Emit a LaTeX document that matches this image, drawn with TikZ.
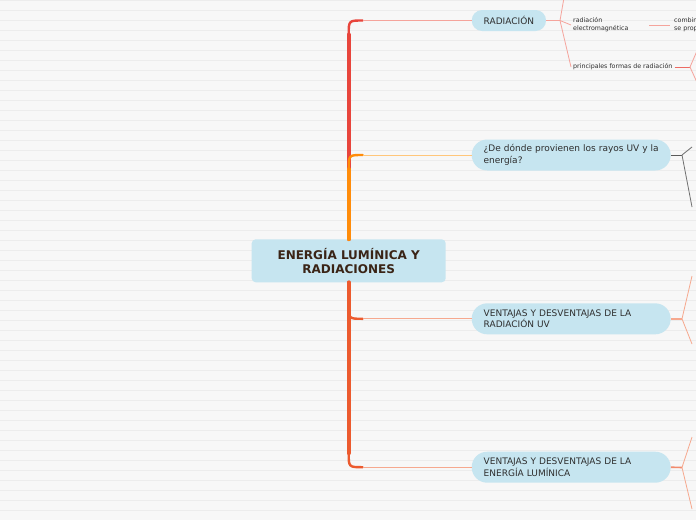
\documentclass[tikz,border=0pt]{standalone}
\usepackage{fontspec}
\setmainfont{DejaVu Sans}
\usetikzlibrary{positioning, calc}
\definecolor{bgpaper}{HTML}{F7F7F7}
\definecolor{bgrule}{HTML}{ECECEC}
\definecolor{bubble}{HTML}{C6E5F0}
\definecolor{inkdark}{HTML}{3A2416}
\definecolor{inktext}{HTML}{2E2E2E}
\definecolor{brRed}{HTML}{E8453C}
\definecolor{brRedLt}{HTML}{F5A49C}
\definecolor{brOrange}{HTML}{FF8C0A}
\definecolor{brOrangeLt}{HTML}{FFC67A}
\definecolor{brCoral}{HTML}{EC5A2E}
\definecolor{brCoralLt}{HTML}{F6A88E}
\definecolor{leafgray}{HTML}{707070}

\begin{document}
\begin{tikzpicture}[x=1pt, y=-1pt, font=\fontsize{9}{11.5}\selectfont,
  topic/.style={fill=bubble, rounded corners=4pt, align=center, text=inkdark,
                font=\fontsize{12}{14.5}\selectfont\bfseries,
                minimum width=194pt, minimum height=43pt, inner sep=0pt},
  pill/.style={fill=bubble, rounded corners=15.5pt, align=left, text=inktext, anchor=west,
               text width=175pt, inner xsep=12pt, inner ysep=0pt, minimum height=31pt},
  tag/.style={fill=bubble, rounded corners=10.5pt, text=inktext, anchor=west,
              inner xsep=12pt, inner ysep=0pt, minimum height=21pt},
  leaf/.style={font=\fontsize{6.3}{8}\selectfont, text=inktext, align=left, anchor=west, inner sep=2pt},
  ruling/.style={draw=bgrule, line width=0.8pt},
  stem/.style={line width=4pt, line cap=round},
  elbow/.style={line width=2.4pt, line cap=round},
  twig/.style={line width=1pt},
  stub/.style={line width=1.6pt},
  fan/.style={line width=0.8pt}]
  \useasboundingbox (0,0) rectangle (696,520);
  \clip (0,0) rectangle (696,520);
  % ---- ruled paper
  \fill[bgpaper] (0,0) rectangle (696,520);
  \foreach \k in {0,...,51}
    \draw[ruling] (0,10*\k+0.7) -- (696,10*\k+0.7);
  % ---- central topic and the four main topics
  \node[topic] (core) at (348.7,260.8) {ENERGÍA LUMÍNICA Y\\RADIACIONES};
  \node[tag]  (rad)      at (471.5,20.5)  {RADIACIÓN};
  \node[pill] (origin)   at (471.5,155)   {¿De dónde provienen los rayos UV y la\\energía?};
  \node[pill] (proUV)    at (471.5,318.8) {VENTAJAS Y DESVENTAJAS DE LA\\RADIACIÓN UV};
  \node[pill] (proLight) at (471.5,467.2) {VENTAJAS Y DESVENTAJAS DE LA\\ENERGÍA LUMÍNICA};
  \coordinate (kneeA) at (core.north |- rad.west);
  \coordinate (kneeB) at (core.north |- origin.west);
  \coordinate (kneeC) at (core.south |- proUV.west);
  \coordinate (kneeD) at (core.south |- proLight.west);
  % ---- branches: thick trunk, a bent elbow, then a thin run to the topic
  \draw[stem, brRed] (core.north) -- ($(kneeA)+(0,14)$);
  \draw[elbow, brRed] ($(kneeA)+(0,14)$) .. controls (kneeA) .. ($(kneeA)+(14,0)$);
  \draw[twig, brRedLt] ($(kneeA)+(14,0)$) -- (rad.west);
  \draw[stem, brOrange] (core.north) -- ($(kneeB)+(0,14)$);
  \draw[elbow, brOrange] ($(kneeB)+(0,14)$) .. controls (kneeB) .. ($(kneeB)+(14,0)$);
  \draw[twig, brOrangeLt] ($(kneeB)+(14,0)$) -- (origin.west);
  \draw[stem, brCoral] (core.south) -- ($(kneeD)+(0,-14)$);
  \draw[elbow, brCoral] ($(kneeD)+(0,-14)$) .. controls (kneeD) .. ($(kneeD)+(14,0)$);
  \draw[twig, brCoralLt] ($(kneeD)+(14,0)$) -- (proLight.west);
  \draw[stem, brCoral] (core.south) -- ($(kneeC)+(0,-14)$);
  \draw[elbow, brCoral] ($(kneeC)+(0,-14)$) .. controls (kneeC) .. ($(kneeC)+(14,0)$);
  \draw[twig, brCoralLt] ($(kneeC)+(14,0)$) -- (proUV.west);
  % ---- RADIACIÓN and its subtopics
  \node[leaf, text width=74pt] (emag) at (571,25) {radiación\\electromagnética};
  \node[leaf, inner xsep=4pt] (comb) at (670,25) {combin\\se prop};
  \node[leaf] (forms) at (571,67) {principales formas de radiación};
  \coordinate (radHub) at (560,20.5);
  \coordinate (radUp) at (565,-8);
  \draw[stub, brRedLt] (rad.east) -- (radHub);
  \draw[fan, brRedLt] (radHub) -- (radUp);
  \draw[fan, brRedLt] (radHub) -- (emag.west);
  \draw[fan, brRedLt] (radHub) -- (forms.west);
  \draw[fan, brRedLt] (emag.east) -- (comb.west);
  \coordinate (formsHub) at (690,67);
  \coordinate (formsUp) at (700,44);
  \coordinate (formsDown) at (700,89);
  \draw[twig, brRed!80] (forms.east) -- (formsHub);
  \draw[fan, brRedLt] (formsHub) -- (formsUp);
  \draw[fan, brRedLt] (formsHub) -- (formsDown);
  % ---- the other three topics only show where their children start
  \coordinate (originHub) at (682,155);
  \coordinate (originUp) at (692,147);
  \coordinate (originDown) at (692,207);
  \draw[twig, leafgray!80!black] (origin.east) -- (originHub);
  \draw[fan, leafgray] (originHub) -- (originUp);
  \draw[fan, leafgray] (originHub) -- (originDown);
  \coordinate (proUVHub) at (682,318.8);
  \coordinate (proUVUp) at (692,276);
  \coordinate (proUVDown) at (692,344);
  \draw[stub, brCoralLt] (proUV.east) -- (proUVHub);
  \draw[fan, brCoralLt] (proUVHub) -- (proUVUp);
  \draw[fan, brCoralLt] (proUVHub) -- (proUVDown);
  \coordinate (proLightHub) at (682,467.5);
  \coordinate (proLightUp) at (692,437);
  \coordinate (proLightDown) at (692,509);
  \draw[stub, brCoral!70] (proLight.east) -- (proLightHub);
  \draw[fan, brCoralLt] (proLightHub) -- (proLightUp);
  \draw[fan, brCoralLt] (proLightHub) -- (proLightDown);
\end{tikzpicture}
\end{document}
